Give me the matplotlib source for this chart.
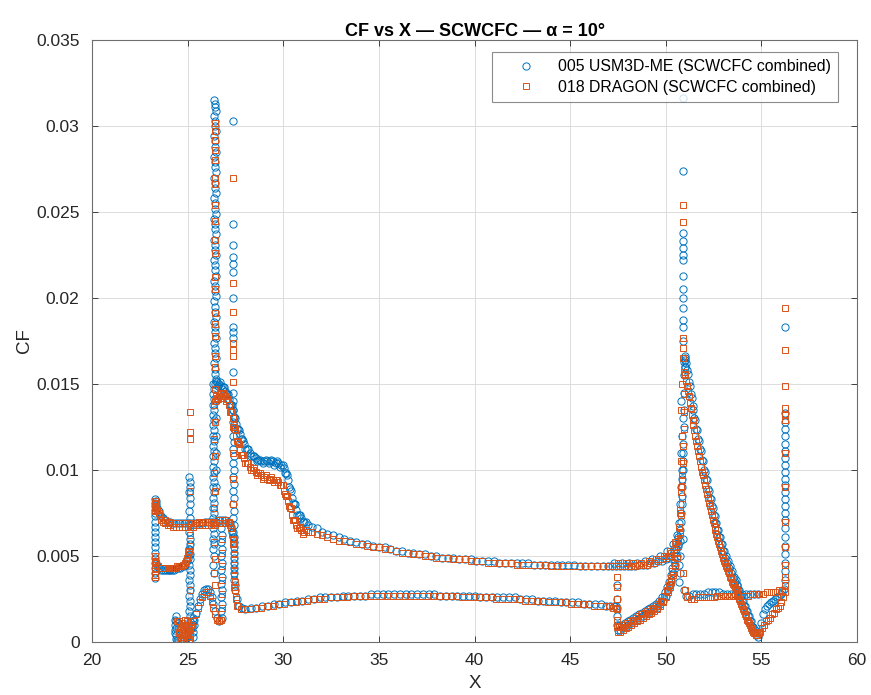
import numpy as np
import matplotlib
matplotlib.use("Agg")
import matplotlib.pyplot as plt

plt.rcParams['font.family'] = ['Liberation Sans', 'DejaVu Sans']

BLUE = '#0072BD'
ORANGE = '#D95319'

# ---------------- 005 USM3D-ME ----------------
usm_lead_x = [23.27, 23.30, 23.28, 23.31, 23.27, 23.30, 23.28, 23.31, 23.27, 23.30, 23.28, 23.31, 23.27, 23.30, 23.28, 23.31, 23.29, 23.30]
usm_lead_cf = [0.0083, 0.0081, 0.0079, 0.0077, 0.0075, 0.0073, 0.0070, 0.0067, 0.0064, 0.0061, 0.0058, 0.0055, 0.0052, 0.0049, 0.0046, 0.0043, 0.0040, 0.0037]

usm_upl_x = [23.33, 23.37, 23.42, 23.48, 23.55, 23.63, 23.72, 23.82, 23.95, 24.10, 24.25, 24.40, 24.55, 24.70, 24.85, 25.00, 25.15, 25.30, 25.45, 25.60, 25.75, 25.90, 26.05, 26.20, 26.35, 26.50, 26.65, 26.80, 26.95, 27.10, 27.20, 27.28, 27.33, 27.37]
usm_upl_cf = [0.0082, 0.0080, 0.0078, 0.0076, 0.0074, 0.0073, 0.0072, 0.0071, 0.0070, 0.0070, 0.0069, 0.0069, 0.0069, 0.0069, 0.0069, 0.0069, 0.0069, 0.0069, 0.0069, 0.0069, 0.0069, 0.0070, 0.0070, 0.0070, 0.0070, 0.0070, 0.0071, 0.0071, 0.0071, 0.0070, 0.0069, 0.0067, 0.0064, 0.0061]

usm_lol_x = [23.33, 23.40, 23.50, 23.60, 23.70, 23.80, 23.90, 24.00, 24.10, 24.20, 24.30, 24.40, 24.50, 24.60, 24.70, 24.80, 24.88, 24.95, 25.00, 25.05, 25.08]
usm_lol_cf = [0.0046, 0.0044, 0.0043, 0.0042, 0.0042, 0.0042, 0.0042, 0.0042, 0.0042, 0.0042, 0.0042, 0.0043, 0.0043, 0.0043, 0.0044, 0.0044, 0.0045, 0.0047, 0.0049, 0.0051, 0.0054]

usm_blob_x = [24.35, 24.35, 24.36, 24.38, 24.40, 24.45, 24.50, 24.60, 24.70, 24.80, 24.90, 25.00, 25.10, 25.20, 25.25, 24.40, 24.50, 25.28, 25.30, 24.37, 24.36, 24.40, 25.32, 25.30, 25.26]
usm_blob_cf = [0.0013, 0.0010, 0.0007, 0.0004, 0.0002, 0.0001, 0.0001, 0.0001, 0.0002, 0.0001, 0.0003, 0.0005, 0.0007, 0.0008, 0.0010, 0.0012, 0.0011, 0.0012, 0.0014, 0.0015, 0.0005, 0.0008, 0.0010, 0.0006, 0.0003]

usm_col25_x = [25.08, 25.12, 25.10, 25.08, 25.12, 25.10, 25.08, 25.12, 25.10, 25.08, 25.12, 25.10, 25.08, 25.12, 25.10, 25.08, 25.12, 25.10, 25.08, 25.12, 25.10, 25.08, 25.12, 25.10, 25.08, 25.12, 25.10]
usm_col25_cf = [0.0096, 0.0093, 0.0090, 0.0087, 0.0084, 0.0080, 0.0076, 0.0072, 0.0068, 0.0064, 0.0060, 0.0057, 0.0054, 0.0051, 0.0048, 0.0045, 0.0042, 0.0039, 0.0036, 0.0033, 0.0030, 0.0027, 0.0024, 0.0021, 0.0018, 0.0015, 0.0012]

usm_bump_x = [25.25, 25.35, 25.45, 25.55, 25.65, 25.75, 25.85, 25.95, 26.05, 26.15, 26.25, 26.35, 26.45, 26.55, 26.65, 26.75]
usm_bump_cf = [0.0009, 0.0013, 0.0017, 0.0021, 0.0025, 0.0028, 0.0030, 0.0031, 0.0031, 0.0029, 0.0026, 0.0022, 0.0018, 0.0014, 0.0012, 0.0013]

usm_spike_x = [26.40, 26.45, 26.42, 26.47, 26.40, 26.45, 26.42, 26.47, 26.40, 26.45, 26.42, 26.47, 26.40, 26.45, 26.42, 26.47, 26.40, 26.45, 26.42, 26.47, 26.40, 26.45, 26.42, 26.47, 26.40, 26.45, 26.42, 26.47, 26.40, 26.45, 26.42, 26.47, 26.40, 26.45, 26.42, 26.47, 26.40, 26.45, 26.42, 26.47, 26.40, 26.45, 26.42, 26.47, 26.40, 26.45, 26.42, 26.47, 26.40, 26.45, 26.42, 26.47, 26.40, 26.45, 26.42, 26.47]
usm_spike_cf = [0.0315, 0.0313, 0.0311, 0.0309, 0.0306, 0.0303, 0.0300, 0.0297, 0.0294, 0.0291, 0.0288, 0.0285, 0.0282, 0.0279, 0.0276, 0.0273, 0.0270, 0.0267, 0.0264, 0.0261, 0.0258, 0.0255, 0.0252, 0.0249, 0.0246, 0.0243, 0.0240, 0.0237, 0.0234, 0.0231, 0.0228, 0.0225, 0.0222, 0.0219, 0.0216, 0.0213, 0.0210, 0.0207, 0.0204, 0.0201, 0.0198, 0.0195, 0.0192, 0.0189, 0.0186, 0.0183, 0.0180, 0.0177, 0.0174, 0.0171, 0.0168, 0.0165, 0.0162, 0.0159, 0.0156, 0.0153]

usm_spikelow_x = [26.33, 26.38, 26.35, 26.40, 26.33, 26.38, 26.35, 26.40, 26.33, 26.38, 26.35, 26.40, 26.33, 26.38, 26.35, 26.40, 26.33, 26.38, 26.35, 26.40, 26.33, 26.38, 26.35, 26.40, 26.33, 26.38, 26.35, 26.40, 26.33, 26.38, 26.35, 26.40, 26.33, 26.38, 26.35, 26.40, 26.47, 26.50, 26.47, 26.50, 26.47, 26.50]
usm_spikelow_cf = [0.0150, 0.0147, 0.0144, 0.0141, 0.0138, 0.0135, 0.0132, 0.0129, 0.0126, 0.0123, 0.0120, 0.0117, 0.0114, 0.0111, 0.0108, 0.0105, 0.0102, 0.0099, 0.0096, 0.0093, 0.0090, 0.0087, 0.0084, 0.0081, 0.0078, 0.0075, 0.0072, 0.0069, 0.0066, 0.0063, 0.0060, 0.0057, 0.0054, 0.0050, 0.0045, 0.0040, 0.0140, 0.0130, 0.0120, 0.0110, 0.0100, 0.0090]

usm_col268_x = [26.76, 26.82, 26.76, 26.82, 26.76, 26.82, 26.76, 26.82, 26.76, 26.82, 26.76, 26.82, 26.76, 26.82]
usm_col268_cf = [0.0066, 0.0062, 0.0058, 0.0054, 0.0050, 0.0046, 0.0042, 0.0038, 0.0034, 0.0030, 0.0026, 0.0022, 0.0018, 0.0014]

usm_col27_x = [27.37, 27.37, 27.37, 27.37, 27.37, 27.37, 27.37, 27.37, 27.37, 27.37, 27.37, 27.37, 27.37, 27.37, 27.40, 27.42, 27.40, 27.42, 27.40, 27.42, 27.40, 27.42, 27.44, 27.46]
usm_col27_cf = [0.0303, 0.0243, 0.0231, 0.0224, 0.0220, 0.0215, 0.0200, 0.0183, 0.0180, 0.0177, 0.0157, 0.0145, 0.0140, 0.0135, 0.0061, 0.0058, 0.0055, 0.0052, 0.0049, 0.0046, 0.0043, 0.0040, 0.0036, 0.0033]

usm_col27b_x = [27.36, 27.40, 27.36, 27.40, 27.36, 27.40, 27.36, 27.40, 27.36, 27.40, 27.36, 27.40, 27.36, 27.40, 27.36, 27.40, 27.36]
usm_col27b_cf = [0.0128, 0.0124, 0.0120, 0.0116, 0.0112, 0.0108, 0.0104, 0.0100, 0.0096, 0.0092, 0.0088, 0.0084, 0.0080, 0.0076, 0.0072, 0.0068, 0.0064]

usm_up_x = [26.45, 26.55, 26.65, 26.75, 26.85, 26.95, 27.05, 27.15, 27.25, 27.35, 27.45, 27.55, 27.65, 27.75, 27.85, 27.95, 28.10, 28.25, 28.40, 28.55, 28.70, 28.85, 29.00, 29.15, 29.30, 29.45, 29.60, 29.75, 29.90, 30.05, 30.15, 30.25, 30.35, 30.45, 30.55, 30.65, 30.80, 30.95, 31.10, 31.30, 31.50, 31.75, 32.00, 32.30, 32.60, 32.90, 33.20, 33.50, 33.80, 34.10, 34.40, 34.70, 35.00, 35.30, 35.60, 35.90, 36.20, 36.50, 36.80, 37.10, 37.40, 37.70, 38.00, 38.30, 38.60, 38.90, 39.20, 39.50, 39.80, 40.10, 40.40, 40.70, 41.00, 41.30, 41.60, 41.90, 42.20, 42.50, 42.80, 43.10, 43.40, 43.70, 44.00, 44.30, 44.60, 44.90, 45.20, 45.50, 45.80, 46.10, 46.40, 46.70, 47.00, 47.20, 47.40, 47.60, 47.80, 48.00, 48.20, 48.40, 48.60, 48.80, 49.00, 49.20, 49.40, 49.60, 49.80, 50.00, 50.15, 50.30, 50.45, 50.55, 50.65, 50.72]
usm_up_cf = [0.0150, 0.0151, 0.0150, 0.0149, 0.0148, 0.0146, 0.0144, 0.0141, 0.0138, 0.0135, 0.0131, 0.0127, 0.0124, 0.0121, 0.0118, 0.0115, 0.0112, 0.0110, 0.0108, 0.0107, 0.0106, 0.0105, 0.0105, 0.0105, 0.0105, 0.0105, 0.0104, 0.0104, 0.0103, 0.0101, 0.0098, 0.0094, 0.0089, 0.0084, 0.0080, 0.0077, 0.0074, 0.0072, 0.0070, 0.0068, 0.0067, 0.0066, 0.0064, 0.0063, 0.0062, 0.0061, 0.0060, 0.0059, 0.0058, 0.0057, 0.0057, 0.0056, 0.0055, 0.0055, 0.0054, 0.0053, 0.0053, 0.0052, 0.0052, 0.0051, 0.0051, 0.0050, 0.0050, 0.0049, 0.0049, 0.0049, 0.0048, 0.0048, 0.0048, 0.0047, 0.0047, 0.0047, 0.0047, 0.0046, 0.0046, 0.0046, 0.0046, 0.0046, 0.0046, 0.0045, 0.0045, 0.0045, 0.0045, 0.0045, 0.0045, 0.0045, 0.0045, 0.0044, 0.0044, 0.0044, 0.0044, 0.0044, 0.0044, 0.0044, 0.0044, 0.0044, 0.0044, 0.0044, 0.0044, 0.0044, 0.0045, 0.0045, 0.0045, 0.0046, 0.0046, 0.0047, 0.0047, 0.0048, 0.0049, 0.0050, 0.0052, 0.0054, 0.0056, 0.0059]

usm_up2_x = [26.50, 26.60, 26.70, 26.80, 26.90, 27.00, 27.10, 27.20, 27.30, 27.40, 27.50, 27.60, 27.70, 27.80, 27.90, 28.00, 28.18, 28.33, 28.48, 28.63, 28.78, 28.93, 29.08, 29.23, 29.38, 29.53, 29.68, 29.83, 29.98, 30.10, 30.20, 30.30, 30.40, 30.50, 30.60, 30.72, 30.88, 31.03, 31.20, 47.30, 47.70, 48.10, 48.50, 48.90, 49.30, 49.70, 50.08, 50.38, 50.60]
usm_up2_cf = [0.0152, 0.0149, 0.0151, 0.0147, 0.0148, 0.0144, 0.0144, 0.0138, 0.0138, 0.0131, 0.0130, 0.0124, 0.0123, 0.0118, 0.0117, 0.0112, 0.0112, 0.0108, 0.0108, 0.0105, 0.0106, 0.0104, 0.0106, 0.0104, 0.0106, 0.0103, 0.0105, 0.0102, 0.0103, 0.0098, 0.0097, 0.0090, 0.0088, 0.0081, 0.0080, 0.0074, 0.0074, 0.0070, 0.0070, 0.0046, 0.0046, 0.0046, 0.0046, 0.0047, 0.0048, 0.0050, 0.0053, 0.0057, 0.0062]

usm_lo_x = [27.50, 27.60, 27.70, 27.85, 28.00, 28.30, 28.60, 28.90, 29.20, 29.50, 29.80, 30.10, 30.40, 30.70, 31.00, 31.30, 31.60, 31.90, 32.20, 32.50, 32.80, 33.10, 33.40, 33.70, 34.00, 34.30, 34.60, 34.90, 35.20, 35.50, 35.80, 36.10, 36.40, 36.70, 37.00, 37.30, 37.60, 37.90, 38.20, 38.50, 38.80, 39.10, 39.40, 39.70, 40.00, 40.30, 40.60, 40.90, 41.20, 41.50, 41.80, 42.10, 42.40, 42.70, 43.00, 43.30, 43.60, 43.90, 44.20, 44.50, 44.80, 45.10, 45.40, 45.70, 46.00, 46.30, 46.60, 46.90, 47.10, 47.30, 47.40]
usm_lo_cf = [0.0030, 0.0025, 0.0021, 0.0020, 0.0019, 0.0020, 0.0020, 0.0021, 0.0021, 0.0022, 0.0022, 0.0023, 0.0023, 0.0024, 0.0024, 0.0025, 0.0025, 0.0026, 0.0026, 0.0026, 0.0026, 0.0027, 0.0027, 0.0027, 0.0027, 0.0027, 0.0028, 0.0028, 0.0028, 0.0028, 0.0028, 0.0028, 0.0028, 0.0028, 0.0028, 0.0028, 0.0028, 0.0028, 0.0027, 0.0027, 0.0027, 0.0027, 0.0027, 0.0027, 0.0027, 0.0026, 0.0026, 0.0026, 0.0026, 0.0026, 0.0026, 0.0026, 0.0025, 0.0025, 0.0025, 0.0024, 0.0024, 0.0024, 0.0024, 0.0023, 0.0023, 0.0023, 0.0023, 0.0022, 0.0022, 0.0022, 0.0022, 0.0021, 0.0021, 0.0021, 0.0021]

usm_step_x = [47.45, 47.45, 47.45, 47.45, 47.45, 47.50, 47.60, 47.75, 47.90, 48.05, 48.20, 48.35, 48.50, 48.65, 48.80, 48.95, 49.10, 49.25, 49.40, 49.55, 49.70, 49.85, 50.00, 50.10, 50.20, 50.30, 50.40, 50.50, 50.58, 50.65, 50.72, 50.78, 50.83, 50.87, 50.90, 50.92, 50.94, 50.96, 50.97, 50.98, 50.99, 51.00]
usm_step_cf = [0.0033, 0.0025, 0.0020, 0.0015, 0.0010, 0.0007, 0.0007, 0.0008, 0.0009, 0.0010, 0.0011, 0.0012, 0.0013, 0.0014, 0.0015, 0.0016, 0.0017, 0.0018, 0.0019, 0.0020, 0.0022, 0.0024, 0.0027, 0.0030, 0.0033, 0.0036, 0.0040, 0.0045, 0.0050, 0.0057, 0.0065, 0.0075, 0.0085, 0.0095, 0.0105, 0.0115, 0.0125, 0.0135, 0.0145, 0.0155, 0.0160, 0.0165]

usm_step2_x = [47.55, 47.70, 47.85, 48.00, 48.15, 48.30, 48.45, 48.60, 48.75, 48.90, 49.05, 49.20, 49.35, 49.50, 49.65, 49.80, 49.95, 50.05, 50.15, 50.25, 50.35, 50.45, 50.55, 50.62, 50.68, 50.75, 50.80, 50.85, 50.88]
usm_step2_cf = [0.0010, 0.0010, 0.0011, 0.0012, 0.0013, 0.0014, 0.0015, 0.0016, 0.0017, 0.0018, 0.0019, 0.0020, 0.0021, 0.0022, 0.0024, 0.0026, 0.0029, 0.0032, 0.0035, 0.0039, 0.0043, 0.0048, 0.0054, 0.0061, 0.0069, 0.0080, 0.0090, 0.0100, 0.0110]

usm_pk_x = [50.90, 50.90, 50.92, 50.90, 50.92, 50.90, 50.92, 50.90, 50.92, 50.90, 50.92, 50.90, 50.92, 50.90, 50.80, 50.85, 50.88, 50.80, 50.85, 50.88, 50.80, 50.85, 50.88, 50.75, 50.70, 50.75, 50.70, 50.95, 51.00, 51.02]
usm_pk_cf = [0.0316, 0.0274, 0.0238, 0.0233, 0.0229, 0.0225, 0.0222, 0.0213, 0.0205, 0.0200, 0.0194, 0.0187, 0.0183, 0.0175, 0.0140, 0.0120, 0.0100, 0.0110, 0.0090, 0.0130, 0.0070, 0.0080, 0.0060, 0.0050, 0.0045, 0.0040, 0.0035, 0.0163, 0.0166, 0.0160]

usm_down_x = [51.00, 51.10, 51.20, 51.30, 51.40, 51.50, 51.60, 51.70, 51.80, 51.90, 52.00, 52.10, 52.20, 52.30, 52.40, 52.50, 52.60, 52.70, 52.80, 52.90, 53.00, 53.10, 53.20, 53.30, 53.40, 53.50, 53.60, 53.70, 53.80, 53.90, 54.00, 54.10, 54.20, 54.30, 54.40, 54.50, 54.60, 54.70, 54.80, 54.90, 55.00, 55.10, 55.20, 55.30, 55.40, 55.50, 55.60, 55.70, 55.80, 55.90, 56.00, 56.10, 56.20]
usm_down_cf = [0.0164, 0.0158, 0.0151, 0.0144, 0.0137, 0.0130, 0.0124, 0.0118, 0.0112, 0.0106, 0.0100, 0.0095, 0.0089, 0.0084, 0.0079, 0.0074, 0.0069, 0.0065, 0.0061, 0.0057, 0.0053, 0.0049, 0.0046, 0.0043, 0.0040, 0.0037, 0.0035, 0.0033, 0.0030, 0.0027, 0.0024, 0.0021, 0.0018, 0.0015, 0.0012, 0.0009, 0.0006, 0.0004, 0.0003, 0.0006, 0.0011, 0.0016, 0.0019, 0.0021, 0.0022, 0.0023, 0.0024, 0.0025, 0.0026, 0.0027, 0.0028, 0.0029, 0.0031]

usm_down2_x = [51.05, 51.15, 51.25, 51.35, 51.45, 51.55, 51.65, 51.75, 51.85, 51.95, 52.05, 52.15, 52.25, 52.35, 52.45, 52.55, 52.65, 52.75, 52.85, 52.95, 53.05, 53.15, 53.25, 53.35, 53.45, 53.55, 53.65, 53.75, 53.85, 53.95, 54.05, 54.15, 54.25, 54.35, 54.45, 54.55, 54.65, 54.75]
usm_down2_cf = [0.0162, 0.0156, 0.0149, 0.0142, 0.0135, 0.0129, 0.0123, 0.0117, 0.0111, 0.0105, 0.0099, 0.0094, 0.0088, 0.0083, 0.0078, 0.0073, 0.0069, 0.0065, 0.0061, 0.0057, 0.0053, 0.0050, 0.0047, 0.0044, 0.0041, 0.0038, 0.0036, 0.0033, 0.0030, 0.0027, 0.0024, 0.0021, 0.0018, 0.0015, 0.0012, 0.0009, 0.0007, 0.0005]

usm_flat_x = [50.95, 51.05, 51.20, 51.40, 51.60, 51.80, 52.00, 52.20, 52.40, 52.60, 52.80, 53.00, 53.20, 53.40, 53.60, 53.80, 54.00, 54.20, 54.40, 54.60, 54.80]
usm_flat_cf = [0.0030, 0.0027, 0.0027, 0.0028, 0.0028, 0.0028, 0.0028, 0.0029, 0.0029, 0.0029, 0.0029, 0.0028, 0.0028, 0.0028, 0.0028, 0.0028, 0.0028, 0.0028, 0.0028, 0.0028, 0.0028]

usm_te_x = [56.22, 56.25, 56.22, 56.25, 56.22, 56.25, 56.22, 56.25, 56.22, 56.25, 56.22, 56.25, 56.22, 56.25, 56.22, 56.25, 56.22, 56.25, 56.22, 56.25, 56.22, 56.25, 56.22, 56.25]
usm_te_cf = [0.0183, 0.0133, 0.0128, 0.0124, 0.0120, 0.0115, 0.0111, 0.0107, 0.0103, 0.0099, 0.0095, 0.0091, 0.0087, 0.0083, 0.0079, 0.0075, 0.0071, 0.0066, 0.0061, 0.0056, 0.0051, 0.0046, 0.0041, 0.0036]

# ---------------- 018 DRAGON ----------------
drg_lead_x = [23.32, 23.32, 23.32, 23.32, 23.32, 23.32, 23.32, 23.32, 23.32, 23.32, 23.32]
drg_lead_cf = [0.0082, 0.0080, 0.0078, 0.0076, 0.0050, 0.0047, 0.0045, 0.0043, 0.0041, 0.0039, 0.0038]

drg_upl_x = [23.33, 23.37, 23.42, 23.48, 23.55, 23.63, 23.72, 23.82, 23.95, 24.10, 24.25, 24.40, 24.55, 24.70, 24.85, 25.00, 25.15, 25.30, 25.45, 25.60, 25.75, 25.90, 26.05, 26.20, 26.35, 26.50, 26.65, 26.80, 26.95, 27.10, 27.20, 27.28, 27.33, 27.37, 27.40]
drg_upl_cf = [0.0081, 0.0079, 0.0077, 0.0075, 0.0073, 0.0071, 0.0070, 0.0069, 0.0068, 0.0068, 0.0067, 0.0067, 0.0067, 0.0067, 0.0067, 0.0067, 0.0067, 0.0067, 0.0068, 0.0068, 0.0068, 0.0068, 0.0068, 0.0068, 0.0069, 0.0069, 0.0069, 0.0069, 0.0069, 0.0069, 0.0068, 0.0066, 0.0063, 0.0060, 0.0057]

drg_upl2_x = [23.80, 24.00, 24.20, 24.40, 24.60, 24.80, 25.00, 25.20, 25.40, 25.60, 25.80, 26.00, 26.20, 26.40, 26.60, 26.80, 27.00, 27.15]
drg_upl2_cf = [0.0071, 0.0070, 0.0069, 0.0069, 0.0069, 0.0069, 0.0069, 0.0069, 0.0069, 0.0070, 0.0070, 0.0070, 0.0070, 0.0070, 0.0071, 0.0071, 0.0071, 0.0070]

drg_lol_x = [23.35, 23.45, 23.55, 23.65, 23.75, 23.85, 23.95, 24.05, 24.15, 24.25, 24.35, 24.45, 24.55, 24.65, 24.75, 24.85, 24.92, 24.98, 25.03, 25.07, 25.10]
drg_lol_cf = [0.0046, 0.0044, 0.0043, 0.0043, 0.0043, 0.0043, 0.0043, 0.0043, 0.0043, 0.0043, 0.0043, 0.0044, 0.0044, 0.0044, 0.0045, 0.0046, 0.0047, 0.0049, 0.0051, 0.0053, 0.0056]

drg_blob_x = [24.45, 24.50, 24.55, 24.60, 24.65, 24.70, 24.75, 24.80, 24.85, 24.90, 24.95, 25.00, 25.05, 25.10, 25.15, 25.20, 24.50, 24.60, 24.70, 24.80, 24.90, 25.00, 25.10, 24.55, 24.65, 24.75, 24.85, 24.95, 25.05, 25.15]
drg_blob_cf = [0.0012, 0.0009, 0.0006, 0.0003, 0.0001, 0.0004, 0.0007, 0.0010, 0.0013, 0.0010, 0.0006, 0.0003, 0.0001, 0.0004, 0.0007, 0.0010, 0.0002, 0.0008, 0.0011, 0.0004, 0.0001, 0.0009, 0.0012, 0.0012, 0.0009, 0.0002, 0.0005, 0.0012, 0.0008, 0.0002]

drg_col25_x = [25.10, 25.10, 25.10, 25.10, 25.10, 25.10]
drg_col25_cf = [0.0134, 0.0122, 0.0118, 0.0088, 0.0062, 0.0030]

drg_bump_x = [25.25, 25.35, 25.45, 25.55, 25.65, 25.75, 25.85, 25.95, 26.05, 26.15, 26.25, 26.35, 26.45, 26.55, 26.65, 26.75]
drg_bump_cf = [0.0008, 0.0012, 0.0016, 0.0020, 0.0023, 0.0026, 0.0028, 0.0029, 0.0029, 0.0027, 0.0024, 0.0020, 0.0016, 0.0013, 0.0012, 0.0013]

drg_spike_x = [26.43, 26.43, 26.43, 26.43, 26.43, 26.43, 26.43, 26.43, 26.43, 26.43, 26.43, 26.43, 26.43, 26.43, 26.43, 26.43, 26.43, 26.43, 26.43, 26.36, 26.42, 26.36, 26.42, 26.36, 26.42, 26.36, 26.42, 26.36, 26.42, 26.36, 26.42]
drg_spike_cf = [0.0302, 0.0297, 0.0292, 0.0286, 0.0280, 0.0270, 0.0266, 0.0254, 0.0245, 0.0234, 0.0226, 0.0212, 0.0205, 0.0191, 0.0185, 0.0178, 0.0166, 0.0160, 0.0147, 0.0138, 0.0128, 0.0118, 0.0108, 0.0098, 0.0088, 0.0078, 0.0068, 0.0058, 0.0048, 0.0040, 0.0033]

drg_col268_x = [26.79, 26.79, 26.79, 26.79, 26.79, 26.79]
drg_col268_cf = [0.0060, 0.0052, 0.0044, 0.0036, 0.0028, 0.0020]

drg_col27_x = [27.37, 27.37, 27.37, 27.37, 27.37, 27.37, 27.37, 27.38, 27.38, 27.38, 27.38]
drg_col27_cf = [0.0270, 0.0209, 0.0192, 0.0174, 0.0170, 0.0166, 0.0151, 0.0125, 0.0110, 0.0095, 0.0080]

drg_desc_x = [27.38, 27.40, 27.41, 27.42, 27.43, 27.44, 27.45, 27.47, 27.50, 27.55, 27.60]
drg_desc_cf = [0.0057, 0.0054, 0.0051, 0.0048, 0.0045, 0.0042, 0.0039, 0.0035, 0.0030, 0.0025, 0.0021]

drg_up_x = [26.45, 26.55, 26.65, 26.75, 26.85, 26.95, 27.05, 27.15, 27.25, 27.35, 27.45, 27.55, 27.65, 27.75, 27.85, 27.95, 28.10, 28.25, 28.40, 28.55, 28.70, 28.85, 29.00, 29.15, 29.30, 29.45, 29.60, 29.75, 29.90, 30.05, 30.15, 30.25, 30.35, 30.45, 30.55, 30.65, 30.80, 30.95, 31.10, 31.30, 31.50, 31.75, 32.00, 32.30, 32.60, 32.90, 33.20, 33.50, 33.80, 34.10, 34.40, 34.70, 35.00, 35.30, 35.60, 35.90, 36.20, 36.50, 36.80, 37.10, 37.40, 37.70, 38.00, 38.30, 38.60, 38.90, 39.20, 39.50, 39.80, 40.10, 40.40, 40.70, 41.00, 41.30, 41.60, 41.90, 42.20, 42.50, 42.80, 43.10, 43.40, 43.70, 44.00, 44.30, 44.60, 44.90, 45.20, 45.50, 45.80, 46.10, 46.40, 46.70, 47.00, 47.20, 47.40, 47.60, 47.80, 48.00, 48.20, 48.40, 48.60, 48.80, 49.00, 49.20, 49.40, 49.60, 49.80, 50.00, 50.15, 50.30, 50.45, 50.55, 50.65, 50.72]
drg_up_cf = [0.0140, 0.0142, 0.0143, 0.0144, 0.0144, 0.0143, 0.0141, 0.0138, 0.0134, 0.0130, 0.0125, 0.0120, 0.0116, 0.0112, 0.0109, 0.0107, 0.0104, 0.0102, 0.0100, 0.0099, 0.0098, 0.0097, 0.0096, 0.0095, 0.0095, 0.0094, 0.0094, 0.0093, 0.0091, 0.0088, 0.0085, 0.0082, 0.0078, 0.0074, 0.0071, 0.0068, 0.0066, 0.0065, 0.0064, 0.0064, 0.0064, 0.0063, 0.0062, 0.0061, 0.0060, 0.0059, 0.0059, 0.0058, 0.0057, 0.0057, 0.0056, 0.0055, 0.0055, 0.0054, 0.0054, 0.0053, 0.0052, 0.0052, 0.0051, 0.0051, 0.0050, 0.0050, 0.0049, 0.0049, 0.0049, 0.0048, 0.0048, 0.0048, 0.0047, 0.0047, 0.0047, 0.0046, 0.0046, 0.0046, 0.0046, 0.0046, 0.0045, 0.0045, 0.0045, 0.0045, 0.0045, 0.0045, 0.0044, 0.0044, 0.0044, 0.0044, 0.0044, 0.0044, 0.0044, 0.0044, 0.0044, 0.0044, 0.0044, 0.0044, 0.0044, 0.0044, 0.0044, 0.0044, 0.0044, 0.0044, 0.0045, 0.0045, 0.0045, 0.0046, 0.0046, 0.0047, 0.0048, 0.0049, 0.0050, 0.0052, 0.0054, 0.0057, 0.0060, 0.0063]

drg_up2_x = [26.50, 26.60, 26.70, 26.80, 26.90, 27.00, 27.10, 27.20, 27.30, 27.40, 27.50, 27.60, 27.70, 27.80, 27.90, 28.00, 28.18, 28.33, 28.48, 28.63, 28.78, 28.93, 29.08, 29.23, 29.38, 29.53, 29.68, 29.83, 29.98, 30.10, 30.20, 30.30, 30.40, 30.50, 30.60, 30.72, 30.88, 31.03, 31.20, 47.50, 47.90, 48.30, 48.70, 49.10, 49.50, 49.90, 50.22, 50.50]
drg_up2_cf = [0.0143, 0.0141, 0.0145, 0.0142, 0.0145, 0.0140, 0.0141, 0.0134, 0.0134, 0.0126, 0.0124, 0.0117, 0.0115, 0.0109, 0.0109, 0.0104, 0.0104, 0.0100, 0.0101, 0.0097, 0.0098, 0.0095, 0.0097, 0.0094, 0.0096, 0.0093, 0.0094, 0.0091, 0.0091, 0.0086, 0.0085, 0.0079, 0.0078, 0.0071, 0.0071, 0.0066, 0.0067, 0.0063, 0.0065, 0.0046, 0.0046, 0.0046, 0.0046, 0.0047, 0.0048, 0.0050, 0.0053, 0.0058]

drg_lo_x = [27.45, 27.55, 27.65, 27.80, 27.95, 28.25, 28.55, 28.85, 29.15, 29.45, 29.75, 30.05, 30.35, 30.65, 30.95, 31.25, 31.55, 31.85, 32.15, 32.45, 32.75, 33.05, 33.35, 33.65, 33.95, 34.25, 34.55, 34.85, 35.15, 35.45, 35.75, 36.05, 36.35, 36.65, 36.95, 37.25, 37.55, 37.85, 38.15, 38.45, 38.75, 39.05, 39.35, 39.65, 39.95, 40.25, 40.55, 40.85, 41.15, 41.45, 41.75, 42.05, 42.35, 42.65, 42.95, 43.25, 43.55, 43.85, 44.15, 44.45, 44.75, 45.05, 45.35, 45.65, 45.95, 46.25, 46.55, 46.85, 47.05, 47.25, 47.40]
drg_lo_cf = [0.0032, 0.0026, 0.0021, 0.0019, 0.0019, 0.0019, 0.0020, 0.0020, 0.0021, 0.0021, 0.0022, 0.0022, 0.0023, 0.0023, 0.0024, 0.0024, 0.0025, 0.0025, 0.0025, 0.0026, 0.0026, 0.0026, 0.0026, 0.0027, 0.0027, 0.0027, 0.0027, 0.0027, 0.0027, 0.0027, 0.0027, 0.0027, 0.0027, 0.0027, 0.0027, 0.0027, 0.0027, 0.0027, 0.0027, 0.0027, 0.0027, 0.0027, 0.0026, 0.0026, 0.0026, 0.0026, 0.0026, 0.0026, 0.0025, 0.0025, 0.0025, 0.0025, 0.0025, 0.0024, 0.0024, 0.0024, 0.0024, 0.0023, 0.0023, 0.0023, 0.0023, 0.0022, 0.0022, 0.0022, 0.0022, 0.0021, 0.0021, 0.0021, 0.0021, 0.0020, 0.0020]

drg_step_x = [47.45, 47.45, 47.45, 47.45, 47.45, 47.45, 47.50, 47.60, 47.75, 47.90, 48.05, 48.20, 48.35, 48.50, 48.65, 48.80, 48.95, 49.10, 49.25, 49.40, 49.55, 49.70, 49.85, 50.00, 50.10, 50.20, 50.30, 50.40, 50.50, 50.58, 50.65, 50.72, 50.78, 50.83, 50.87, 50.90, 50.92, 50.94, 50.96, 50.98, 51.00]
drg_step_cf = [0.0038, 0.0032, 0.0025, 0.0019, 0.0013, 0.0009, 0.0006, 0.0006, 0.0007, 0.0008, 0.0009, 0.0010, 0.0011, 0.0012, 0.0013, 0.0014, 0.0015, 0.0016, 0.0017, 0.0018, 0.0019, 0.0021, 0.0023, 0.0026, 0.0029, 0.0032, 0.0035, 0.0039, 0.0044, 0.0049, 0.0056, 0.0064, 0.0074, 0.0084, 0.0094, 0.0104, 0.0114, 0.0124, 0.0134, 0.0144, 0.0156]

drg_step2_x = [47.55, 47.68, 47.82, 47.97, 48.12, 48.27, 48.42, 48.57, 48.72, 48.87, 49.02, 49.17, 49.32, 49.47, 49.62, 49.77, 49.92, 50.05, 50.15, 50.25, 50.35, 50.45, 50.54, 50.62, 50.69, 50.75, 50.80, 50.85]
drg_step2_cf = [0.0009, 0.0009, 0.0010, 0.0011, 0.0012, 0.0013, 0.0014, 0.0015, 0.0016, 0.0017, 0.0018, 0.0019, 0.0020, 0.0021, 0.0022, 0.0024, 0.0027, 0.0030, 0.0033, 0.0037, 0.0041, 0.0046, 0.0052, 0.0059, 0.0067, 0.0077, 0.0087, 0.0097]

drg_pk_x = [50.90, 50.90, 50.90, 50.90, 50.90, 50.85, 50.82, 50.85, 50.82, 50.78, 50.75]
drg_pk_cf = [0.0254, 0.0244, 0.0177, 0.0171, 0.0165, 0.0150, 0.0135, 0.0120, 0.0105, 0.0090, 0.0075]

drg_down_x = [50.95, 51.05, 51.15, 51.25, 51.35, 51.45, 51.55, 51.65, 51.75, 51.85, 51.95, 52.05, 52.15, 52.25, 52.35, 52.45, 52.55, 52.65, 52.75, 52.85, 52.95, 53.05, 53.15, 53.25, 53.35, 53.45, 53.55, 53.65, 53.75, 53.85, 53.95, 54.05, 54.15, 54.25, 54.35, 54.45, 54.55, 54.65, 54.75, 54.85, 54.95, 55.05, 55.15, 55.25, 55.35, 55.45, 55.55, 55.65, 55.75, 55.85, 55.95, 56.05, 56.15, 56.22]
drg_down_cf = [0.0157, 0.0152, 0.0146, 0.0139, 0.0132, 0.0126, 0.0120, 0.0114, 0.0108, 0.0102, 0.0097, 0.0091, 0.0086, 0.0081, 0.0076, 0.0071, 0.0067, 0.0063, 0.0059, 0.0055, 0.0051, 0.0047, 0.0044, 0.0041, 0.0038, 0.0035, 0.0033, 0.0031, 0.0028, 0.0025, 0.0022, 0.0019, 0.0016, 0.0013, 0.0011, 0.0008, 0.0006, 0.0005, 0.0004, 0.0005, 0.0006, 0.0008, 0.0010, 0.0012, 0.0013, 0.0014, 0.0016, 0.0017, 0.0019, 0.0020, 0.0021, 0.0023, 0.0026, 0.0029]

drg_down2_x = [51.00, 51.10, 51.20, 51.30, 51.40, 51.50, 51.60, 51.70, 51.80, 51.90, 52.00, 52.10, 52.20, 52.30, 52.40, 52.50, 52.60, 52.70, 52.80, 52.90, 53.00, 53.10, 53.20, 53.30, 53.40, 53.50, 53.60, 53.70, 53.80, 53.90, 54.00, 54.10, 54.20, 54.30, 54.40, 54.50, 54.60, 54.70]
drg_down2_cf = [0.0155, 0.0149, 0.0143, 0.0136, 0.0129, 0.0123, 0.0117, 0.0111, 0.0105, 0.0099, 0.0094, 0.0089, 0.0084, 0.0079, 0.0074, 0.0069, 0.0065, 0.0061, 0.0057, 0.0053, 0.0049, 0.0046, 0.0043, 0.0040, 0.0037, 0.0034, 0.0032, 0.0030, 0.0027, 0.0024, 0.0021, 0.0018, 0.0015, 0.0012, 0.0010, 0.0007, 0.0005, 0.0004]

drg_flat_x = [50.90, 51.00, 51.10, 51.30, 51.50, 51.70, 51.90, 52.10, 52.30, 52.50, 52.70, 52.90, 53.10, 53.30, 53.50, 53.70, 53.90, 54.10, 54.30, 54.50, 54.70, 54.90, 55.10, 55.30, 55.50, 55.70, 55.90, 56.10]
drg_flat_cf = [0.0040, 0.0030, 0.0026, 0.0025, 0.0025, 0.0026, 0.0026, 0.0026, 0.0026, 0.0026, 0.0027, 0.0027, 0.0027, 0.0027, 0.0027, 0.0027, 0.0027, 0.0027, 0.0027, 0.0028, 0.0028, 0.0028, 0.0028, 0.0029, 0.0029, 0.0029, 0.0030, 0.0030]

drg_te_x = [56.25, 56.25, 56.25, 56.25, 56.25, 56.25, 56.25, 56.25, 56.25, 56.25, 56.25, 56.25, 56.25]
drg_te_cf = [0.0194, 0.0170, 0.0149, 0.0136, 0.0132, 0.0129, 0.0110, 0.0090, 0.0070, 0.0055, 0.0045, 0.0038, 0.0033]

usm_x = np.concatenate([usm_lead_x, usm_upl_x, usm_lol_x, usm_blob_x, usm_col25_x, usm_bump_x,
                        usm_spike_x, usm_spikelow_x, usm_col268_x, usm_col27_x, usm_col27b_x,
                        usm_up_x, usm_up2_x, usm_lo_x, usm_step_x, usm_step2_x,
                        usm_pk_x, usm_down_x, usm_down2_x, usm_flat_x, usm_te_x])
usm_cf = np.concatenate([usm_lead_cf, usm_upl_cf, usm_lol_cf, usm_blob_cf, usm_col25_cf, usm_bump_cf,
                         usm_spike_cf, usm_spikelow_cf, usm_col268_cf, usm_col27_cf, usm_col27b_cf,
                         usm_up_cf, usm_up2_cf, usm_lo_cf, usm_step_cf, usm_step2_cf,
                         usm_pk_cf, usm_down_cf, usm_down2_cf, usm_flat_cf, usm_te_cf])
drg_x = np.concatenate([drg_lead_x, drg_upl_x, drg_upl2_x, drg_lol_x, drg_blob_x, drg_col25_x, drg_bump_x,
                        drg_spike_x, drg_col268_x, drg_col27_x, drg_desc_x, drg_up_x, drg_up2_x,
                        drg_lo_x, drg_step_x, drg_step2_x, drg_pk_x,
                        drg_down_x, drg_down2_x, drg_flat_x, drg_te_x])
drg_cf = np.concatenate([drg_lead_cf, drg_upl_cf, drg_upl2_cf, drg_lol_cf, drg_blob_cf, drg_col25_cf, drg_bump_cf,
                         drg_spike_cf, drg_col268_cf, drg_col27_cf, drg_desc_cf, drg_up_cf, drg_up2_cf,
                         drg_lo_cf, drg_step_cf, drg_step2_cf, drg_pk_cf,
                         drg_down_cf, drg_down2_cf, drg_flat_cf, drg_te_cf])

fig = plt.figure(figsize=(8.71, 6.95), dpi=100)
ax = fig.add_axes([92/871, 53/695, 765/871, 602/695])

ax.plot(usm_x, usm_cf, linestyle='none', marker='o', ms=5.2, mfc='none', mec=BLUE, mew=0.7,
        label='005 USM3D-ME (SCWCFC combined)')
ax.plot(drg_x, drg_cf, linestyle='none', marker='s', ms=4.2, mfc='none', mec=ORANGE, mew=0.7,
        label='018 DRAGON (SCWCFC combined)')

ax.set_xlim(20, 60)
ax.set_ylim(0, 0.035)
ax.set_xticks([20, 25, 30, 35, 40, 45, 50, 55, 60])
ax.set_yticks([0, 0.005, 0.01, 0.015, 0.02, 0.025, 0.03, 0.035])
ax.set_yticklabels(['0', '0.005', '0.01', '0.015', '0.02', '0.025', '0.03', '0.035'])
ax.grid(True, color='#dcdcdc', linewidth=0.7)
ax.set_axisbelow(True)
ax.tick_params(direction='in', top=True, right=True, labelsize=12.5, colors='#262626', length=4, width=0.6)
ax.tick_params(axis='x', pad=8)
ax.tick_params(axis='y', pad=9)
for s in ax.spines.values():
    s.set_color('#6e6e6e')
    s.set_linewidth(0.8)
ax.set_xlabel('X', fontsize=13.5, color='#262626', labelpad=5)
ax.set_ylabel('CF', fontsize=13.5, color='#262626', labelpad=2)
ax.set_title('CF vs X — SCWCFC — α = 10°', fontsize=13, fontweight='bold', pad=3)

leg = ax.legend(loc='upper right', bbox_to_anchor=(0.975, 0.980), borderaxespad=0.0,
                fontsize=11.4, frameon=True, fancybox=False, edgecolor='#6e6e6e',
                handletextpad=0.3, handlelength=3.4, borderpad=0.45, labelspacing=0.35)
leg.get_frame().set_linewidth(0.8)

fig.savefig('out.png', dpi=100)
